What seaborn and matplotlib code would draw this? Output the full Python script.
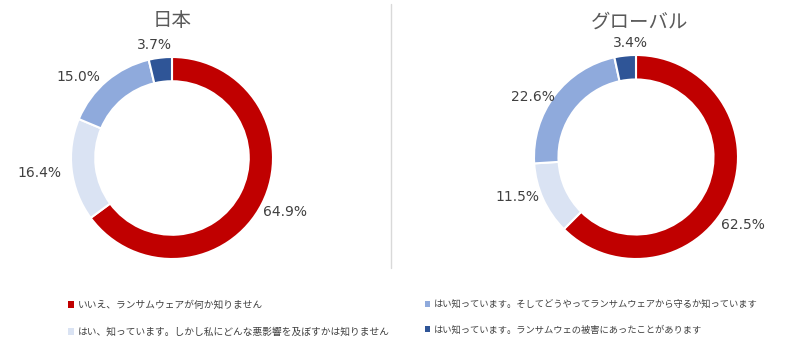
import matplotlib.pyplot as plt
import seaborn as sns
from matplotlib.lines import Line2D
from matplotlib.patches import Patch

# data
categories = [
    'いいえ、ランサムウェアが何か知りません',
    'はい、知っています。しかし私にどんな悪影響を及ぼすかは知りません',
    'はい知っています。そしてどうやってランサムウェアから守るか知っています',
    'はい知っています。ランサムウェの被害にあったことがあります',
]
japan_values = [64.9, 16.4, 15.0, 3.7]
global_values = [62.5, 11.5, 22.6, 3.4]
titles = ['日本', 'グローバル']

# label placement (in units of the donut radius), like Excel's best fit
japan_label_pos = [(1.12, -0.53), (-1.31, -0.15), (-0.93, 0.80), (-0.17, 1.12)]
global_label_pos = [(1.05, -0.67), (-1.16, -0.39), (-1.01, 0.59), (-0.05, 1.12)]

sns.set_theme(style='white')
plt.rcParams['font.family'] = ['Noto Sans CJK JP', 'DejaVu Sans']
colors = sns.color_palette(['#C00000', '#DAE3F3', '#8FAADC', '#2F5597'])

W, H = 800, 356
fig = plt.figure(figsize=(W / 100, H / 100), dpi=100)


def donut(values, label_pos, title, cx, cy, r, tx, ty):
    lim = 1.45
    size = 2 * lim * r
    ax = fig.add_axes([(cx - size / 2) / W, 1 - (cy + size / 2) / H, size / W, size / H])
    wedges, texts, autotexts = ax.pie(
        values, colors=colors, startangle=90, counterclock=False,
        radius=1, autopct='%1.1f%%',
        wedgeprops=dict(width=0.24, edgecolor='white', linewidth=1.5),
        textprops=dict(color='#404040', fontsize=10, family='DejaVu Sans'))
    for t, pos in zip(autotexts, label_pos):
        t.set_position(pos)
        t.set_ha('center')
        t.set_va('center')
    ax.set_xlim(-lim, lim)
    ax.set_ylim(-lim, lim)
    ax.set_aspect('equal')
    ax.axis('off')
    fig.text(tx / W, 1 - ty / H, title, ha='center', va='center',
             fontsize=14, color='#595959')


donut(japan_values, japan_label_pos, titles[0], 172, 158, 101, 172, 20)
donut(global_values, global_label_pos, titles[1], 636, 157, 102, 640, 22)

# divider
fig.add_artist(Line2D([391 / W, 391 / W], [1 - 4 / H, 1 - 268 / H],
                      color='#D9D9D9', linewidth=1))

# legends
handles = [Patch(facecolor=c, edgecolor='none') for c in colors]
leg_kw = dict(frameon=False, handlelength=0.6, handleheight=0.6,
              handletextpad=0.4, labelspacing=1.75, labelcolor='#404040',
              loc='upper left', borderaxespad=0)
fig.legend(handles[:2], categories[:2], bbox_to_anchor=(64 / W, 1 - 296 / H),
           fontsize=7, **leg_kw)
fig.legend(handles[2:], categories[2:], bbox_to_anchor=(421 / W, 1 - 296 / H),
           fontsize=6.7, **leg_kw)

fig.savefig('out.png', dpi=100, facecolor='white')
